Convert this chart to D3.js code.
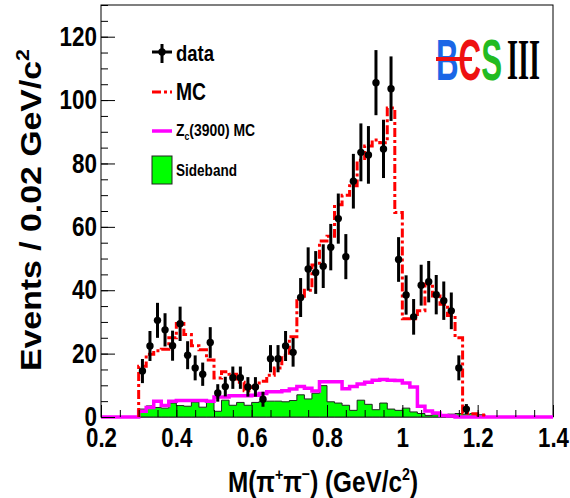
<!DOCTYPE html>
<meta charset="utf-8">
<style>

body {
  margin: 0;
  background: #fff;
}

text {
  font-family: "Liberation Sans", Arial, sans-serif;
  font-weight: bold;
}

.tick line {
  stroke: #000;
  stroke-width: 1px;
}

.tick text {
  font-size: 27px;
  fill: #000;
}

.frame {
  fill: none;
  stroke: #000;
  stroke-width: 1px;
}

.sideband {
  fill: #00ff00;
  stroke: #222;
  stroke-width: 1px;
}

.zc {
  fill: none;
  stroke: #ff00ff;
  stroke-width: 3.5px;
}

.mc {
  fill: none;
  stroke: #ff0000;
  stroke-width: 3px;
  stroke-dasharray: 9,3,3,3;
}

.errbar {
  stroke: #000;
  stroke-width: 3px;
}

</style>
<body>
<script src="https://d3js.org/d3.v7.min.js"></script>
<script>

// data points at bin centres (GeV/c^2)
var dataMass = [0.31, 0.33, 0.35, 0.37, 0.39, 0.41, 0.43, 0.45, 0.47, 0.49,
                0.51, 0.53, 0.55, 0.57, 0.59, 0.61, 0.63, 0.65, 0.67, 0.69,
                0.71, 0.73, 0.75, 0.77, 0.79, 0.81, 0.83, 0.85, 0.87, 0.89,
                0.91, 0.93, 0.95, 0.97, 0.99, 1.01, 1.03, 1.05, 1.07, 1.09,
                1.11, 1.13, 1.15, 1.17];
var dataEvents = [14.5, 22.4, 30.5, 27.5, 22.5, 29.4, 19.5, 15.5, 13.5, 23.5,
                  7.6, 9.6, 12.4, 12.4, 9.5, 9.5, 5.6, 18.4, 18.4, 22.4,
                  20.4, 37.7, 46.7, 45.6, 47.6, 53.6, 62.6, 50.6, 74.4, 83.5,
                  82.7, 105.5, 84.6, 103.6, 49.7, 38.5, 31.6, 41.6, 42.7, 38.6,
                  36.7, 33.5, 15.5, 2.5];

// histogram bins, low edges, width 0.02
var binLow = [0.30, 0.32, 0.34, 0.36, 0.38, 0.40, 0.42, 0.44, 0.46, 0.48,
              0.50, 0.52, 0.54, 0.56, 0.58, 0.60, 0.62, 0.64, 0.66, 0.68,
              0.70, 0.72, 0.74, 0.76, 0.78, 0.80, 0.82, 0.84, 0.86, 0.88,
              0.90, 0.92, 0.94, 0.96, 0.98, 1.00, 1.02, 1.04, 1.06, 1.08,
              1.10, 1.12, 1.14, 1.16, 1.18, 1.20];
var binWidth = 0.02;

var mcEvents = [16, 19.8, 20.9, 21.4, 25, 29.5, 26, 22.5, 21.2, 18,
                12.3, 14.3, 13.5, 11, 8.3, 9.5, 11.3, 13.2, 15.5, 19.5,
                25.3, 37.6, 40, 48, 55.5, 57, 67, 70, 73, 81,
                85.5, 87.4, 86.5, 97.5, 64.5, 31, 31, 33.5, 42, 38.2,
                35.6, 32, 25, 1.2, 1, 0.6];

var zcEvents = [1.8, 3.0, 5.0, 3.6, 5.0, 5.2, 5.2, 5.2, 5.2, 5.0,
                6.3, 6.3, 6.7, 6.7, 6.7, 6.9, 7.4, 8.0, 8.0, 8.3,
                8.8, 9.6, 9.1, 8.2, 11.1, 11.1, 11.1, 8.9, 9.6, 10.4,
                11.0, 11.6, 11.8, 11.6, 11.5, 10.7, 9.5, 3.4, 1.9, 1.3,
                0.5, 0.3, 0, 0, 0, 0];

var sidebandEvents = [2.5, 3.5, 3.0, 2.8, 4.4, 3.6, 3.4, 4.7, 3.1, 4.6,
                      1.8, 5.3, 3.7, 4.6, 3.7, 4.6, 5.0, 5.0, 5.0, 4.8,
                      5.2, 7.0, 5.7, 7.5, 9.9, 4.8, 4.4, 3.7, 2.1, 5.3,
                      4.0, 2.3, 4.4, 2.5, 2.1, 2.8, 1.6, 1.1, 0.5, 0.7,
                      0.6, 0.9, 1.1, 0.9, 1.1, 0.7];

var xTicks = [0.2, 0.4, 0.6, 0.8, 1.0, 1.2, 1.4];
var xTickLabels = ["0.2", "0.4", "0.6", "0.8", "1", "1.2", "1.4"];
var yTicks = [0, 20, 40, 60, 80, 100, 120];
var yTickLabels = ["0", "20", "40", "60", "80", "100", "120"];

var width = 570,
    height = 498;

var x = d3.scaleLinear()
    .domain([0.2, 1.4])
    .range([101, 553]);

var y = d3.scaleLinear()
    .domain([0, 130])
    .range([417, 5]);

var svg = d3.select("body").append("svg")
    .attr("width", width)
    .attr("height", height);

svg.append("rect")
    .attr("class", "frame")
    .attr("x", x(0.2))
    .attr("y", y(130))
    .attr("width", x(1.4) - x(0.2))
    .attr("height", y(0) - y(130));

// step outline of a histogram, closed to zero at lo and hi
function steps(values, lo, hi) {
  var pts = [[lo, 0]];
  binLow.forEach(function(e, i) { pts.push([e, values[i]]); });
  pts.push([hi, 0]);
  return pts;
}

var stepLine = d3.line()
    .curve(d3.curveStepAfter)
    .x(function(d) { return x(d[0]); })
    .y(function(d) { return y(d[1]); });

var stepArea = d3.area()
    .curve(d3.curveStepAfter)
    .x(function(d) { return x(d[0]); })
    .y0(y(0))
    .y1(function(d) { return y(d[1]); });

var lastEdge = binLow[binLow.length - 1] + binWidth;

svg.append("path")
    .datum(steps(sidebandEvents, binLow[0], lastEdge))
    .attr("class", "sideband")
    .attr("d", stepArea);

svg.append("path")
    .datum(steps(zcEvents, 0.2, 1.4))
    .attr("class", "zc")
    .attr("d", stepLine);

svg.append("path")
    .datum(steps(mcEvents, binLow[0], lastEdge))
    .attr("class", "mc")
    .attr("d", stepLine);

var points = svg.append("g")
    .selectAll("g")
    .data(dataMass.map(function(m, i) { return [m, dataEvents[i]]; }))
  .enter().append("g");

points.append("line")
    .attr("class", "errbar")
    .attr("x1", function(d) { return x(d[0]); })
    .attr("x2", function(d) { return x(d[0]); })
    .attr("y1", function(d) { return y(d[1] + Math.sqrt(d[1])); })
    .attr("y2", function(d) { return y(Math.max(0, d[1] - Math.sqrt(d[1]))); });

points.append("circle")
    .attr("cx", function(d) { return x(d[0]); })
    .attr("cy", function(d) { return y(d[1]); })
    .attr("r", 3.7)
    .style("fill", "#000");

// tick labels are narrow and tall in the original
function squeeze(g) {
  g.selectAll(".tick text")
      .attr("textLength", function() {
        var s = d3.select(this).text();
        return s.replace(/\./g, "").length * 12.5 + (s.indexOf(".") >= 0 ? 6 : 0);
      })
      .attr("lengthAdjust", "spacingAndGlyphs");
}

// axes: ticks point into the frame
svg.append("g")
    .attr("transform", "translate(0," + y(0) + ")")
    .call(d3.axisBottom(x).tickValues(x.ticks(24)).tickSize(-7).tickFormat(""))
    .call(function(g) { g.select(".domain").remove(); });

svg.append("g")
    .attr("transform", "translate(0," + y(0) + ")")
    .call(d3.axisBottom(x).tickValues(xTicks).tickSize(-12).tickPadding(11)
      .tickFormat(function(d, i) { return xTickLabels[i]; }))
    .call(function(g) { g.select(".domain").remove(); })
    .call(squeeze);

svg.append("g")
    .attr("transform", "translate(" + x(0.2) + ",0)")
    .call(d3.axisLeft(y).tickValues(y.ticks(26)).tickSize(-7).tickFormat(""))
    .call(function(g) { g.select(".domain").remove(); });

svg.append("g")
    .attr("transform", "translate(" + x(0.2) + ",0)")
    .call(d3.axisLeft(y).tickValues(yTicks).tickSize(-14).tickPadding(4)
      .tickFormat(function(d, i) { return yTickLabels[i]; }))
    .call(function(g) { g.select(".domain").remove(); })
    .call(squeeze);

// axis titles
var yTitle = svg.append("text")
    .attr("transform", "translate(41,210) rotate(-90)")
    .attr("text-anchor", "middle")
    .attr("textLength", 322)
    .attr("lengthAdjust", "spacingAndGlyphs")
    .style("font-size", "30px")
    .text("Events / 0.02 GeV/c");
yTitle.append("tspan").attr("dy", -12).style("font-size", "19px").text("2");

var xTitle = svg.append("text")
    .attr("x", 323)
    .attr("y", 492)
    .attr("text-anchor", "middle")
    .attr("textLength", 190)
    .attr("lengthAdjust", "spacingAndGlyphs")
    .style("font-size", "29px");
xTitle.append("tspan").text("M(π");
xTitle.append("tspan").attr("dy", -12).style("font-size", "17px").text("+");
xTitle.append("tspan").attr("dy", 12).text("π");
xTitle.append("tspan").attr("dy", -12).style("font-size", "17px").text("−");
xTitle.append("tspan").attr("dy", 12).text(") (GeV/c");
xTitle.append("tspan").attr("dy", -12).style("font-size", "17px").text("2");
xTitle.append("tspan").attr("dy", 12).text(")");

// legend
var legend = svg.append("g");

legend.append("line")
    .attr("class", "errbar")
    .attr("x1", 152).attr("x2", 172).attr("y1", 52).attr("y2", 52);
legend.append("line")
    .attr("class", "errbar")
    .attr("x1", 162).attr("x2", 162).attr("y1", 44).attr("y2", 63);
legend.append("circle")
    .attr("cx", 162).attr("cy", 52).attr("r", 3.7)
    .style("fill", "#000");
legend.append("text")
    .attr("x", 176).attr("y", 61)
    .attr("textLength", 38).attr("lengthAdjust", "spacingAndGlyphs")
    .style("font-size", "22px")
    .text("data");

legend.append("line")
    .attr("class", "mc")
    .attr("x1", 152).attr("x2", 172).attr("y1", 92).attr("y2", 92);
legend.append("text")
    .attr("x", 176).attr("y", 100)
    .attr("textLength", 30).attr("lengthAdjust", "spacingAndGlyphs")
    .style("font-size", "23px")
    .text("MC");

legend.append("line")
    .attr("class", "zc")
    .attr("x1", 152).attr("x2", 172).attr("y1", 131).attr("y2", 131);
var zcText = legend.append("text")
    .attr("x", 176).attr("y", 136)
    .attr("textLength", 79).attr("lengthAdjust", "spacingAndGlyphs")
    .style("font-size", "16px");
zcText.append("tspan").text("Z");
zcText.append("tspan").attr("dy", 4).style("font-size", "10px").text("c");
zcText.append("tspan").attr("dy", -4).text("(3900) MC");

legend.append("rect")
    .attr("class", "sideband")
    .attr("x", 152).attr("y", 156).attr("width", 20).attr("height", 28);
legend.append("text")
    .attr("x", 176).attr("y", 176)
    .attr("textLength", 61).attr("lengthAdjust", "spacingAndGlyphs")
    .style("font-size", "16px")
    .text("Sideband");

// BESIII logo
var logo = svg.append("g");
var bes = logo.append("text")
    .attr("x", 436).attr("y", 80)
    .attr("textLength", 66).attr("lengthAdjust", "spacingAndGlyphs")
    .style("font-size", "58px");
bes.append("tspan").style("fill", "#1a66e6").text("B");
bes.append("tspan").style("fill", "#ee1111").text("C");
bes.append("tspan").style("fill", "#22bb22").text("S");
logo.append("line")
    .attr("x1", 436).attr("x2", 472).attr("y1", 59).attr("y2", 59)
    .style("stroke", "#ee1111").style("stroke-width", 4);
logo.append("text")
    .attr("x", 507).attr("y", 79)
    .attr("textLength", 33).attr("lengthAdjust", "spacingAndGlyphs")
    .style("font-family", "'Liberation Serif', serif")
    .style("font-size", "58px").style("fill", "#000")
    .text("III");

</script>
